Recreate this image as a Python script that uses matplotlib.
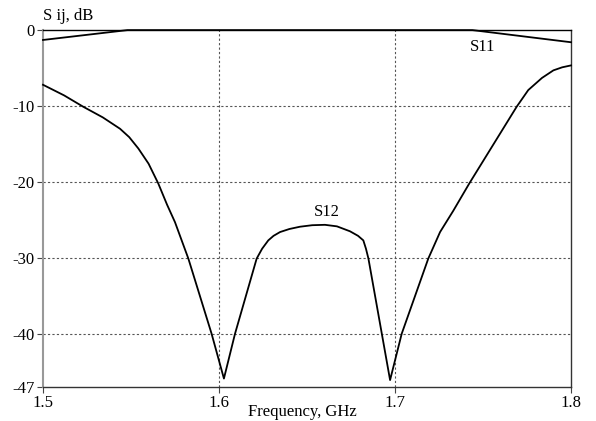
import matplotlib
matplotlib.use('Agg')
import matplotlib.pyplot as plt

plt.rcParams['font.family'] = ['Liberation Serif', 'DejaVu Serif']

# S11 reflection, dB
s11_freq = [1.500, 1.548, 1.744, 1.800]
s11_db = [-1.3, 0.0, 0.0, -1.6]

# S12 transmission, dB
s12_freq = [1.500, 1.512, 1.5229, 1.534, 1.5438, 1.549, 1.5542, 1.560,
            1.5655, 1.5705, 1.575, 1.5826, 1.5958, 1.6028,
            1.6091, 1.6214, 1.6245, 1.628, 1.631, 1.6347, 1.640, 1.646,
            1.653, 1.6602, 1.667, 1.6744, 1.679, 1.682, 1.6835, 1.6849,
            1.6972, 1.7038, 1.7189, 1.7256, 1.7331, 1.7422, 1.7691,
            1.7757, 1.7835, 1.790, 1.795, 1.800]
s12_db = [-7.2, -8.6, -10.1, -11.5, -13.0, -14.1, -15.6, -17.6,
          -20.2, -23.0, -25.3, -30.1, -40.0, -45.9,
          -40.0, -30.1, -28.8, -27.7, -27.1, -26.6, -26.2, -25.9,
          -25.7, -25.65, -25.85, -26.5, -27.1, -27.7, -28.8, -30.1,
          -46.1, -40.0, -30.1, -26.6, -23.8, -20.2, -10.1,
          -7.9, -6.3, -5.3, -4.9, -4.65]

xticks = [1.5, 1.6, 1.7, 1.8]
yticks = [0, -10, -20, -30, -40, -47]

fig = plt.figure(figsize=(5.96, 4.21), dpi=100)
ax = fig.add_axes([0.0721, 0.081, 0.886, 0.8475])

ax.plot(s11_freq, s11_db, color='black', lw=1.3, zorder=3, clip_on=False)
ax.plot(s12_freq, s12_db, color='black', lw=1.3, zorder=3, clip_on=False)

ax.set_xlim(1.5, 1.8)
ax.set_ylim(-47, 0)
ax.set_xticks(xticks)
ax.set_xticklabels(['1.5', '1.6', '1.7', '1.8'])
ax.set_yticks(yticks)
ax.set_yticklabels(['0', '-10', '-20', '-30', '-40', '-47'])
ax.tick_params(axis='both', labelsize=12, length=4, width=0.8,
               color='#444444', pad=2)

# dotted grid only on the inner divisions
for f in xticks[1:-1]:
    ax.axvline(f, color='#555555', lw=0.8, ls=(0, (2, 2)), zorder=1)
for d in yticks[1:-1]:
    ax.axhline(d, color='#555555', lw=0.8, ls=(0, (2, 2)), zorder=1)

ax.spines['left'].set_color('#999999')
ax.spines['left'].set_linewidth(1.5)
ax.spines['bottom'].set_color('#333333')
ax.spines['bottom'].set_linewidth(1.0)
ax.spines['top'].set_color('black')
ax.spines['top'].set_linewidth(1.0)
ax.spines['right'].set_color('#333333')
ax.spines['right'].set_linewidth(1.0)

ax.text(1.750, -2.2, 'S11', fontsize=12, ha='center', va='center')
ax.text(1.6614, -24.0, 'S12', fontsize=12, ha='center', va='center')

fig.text(43 / 596, 1 - 20 / 421, 'S ij, dB', fontsize=12, ha='left',
         va='baseline')
fig.text(302 / 596, 1 - 416 / 421, 'Frequency, GHz', fontsize=12,
         ha='center', va='baseline')

fig.savefig('out.png', dpi=100)
